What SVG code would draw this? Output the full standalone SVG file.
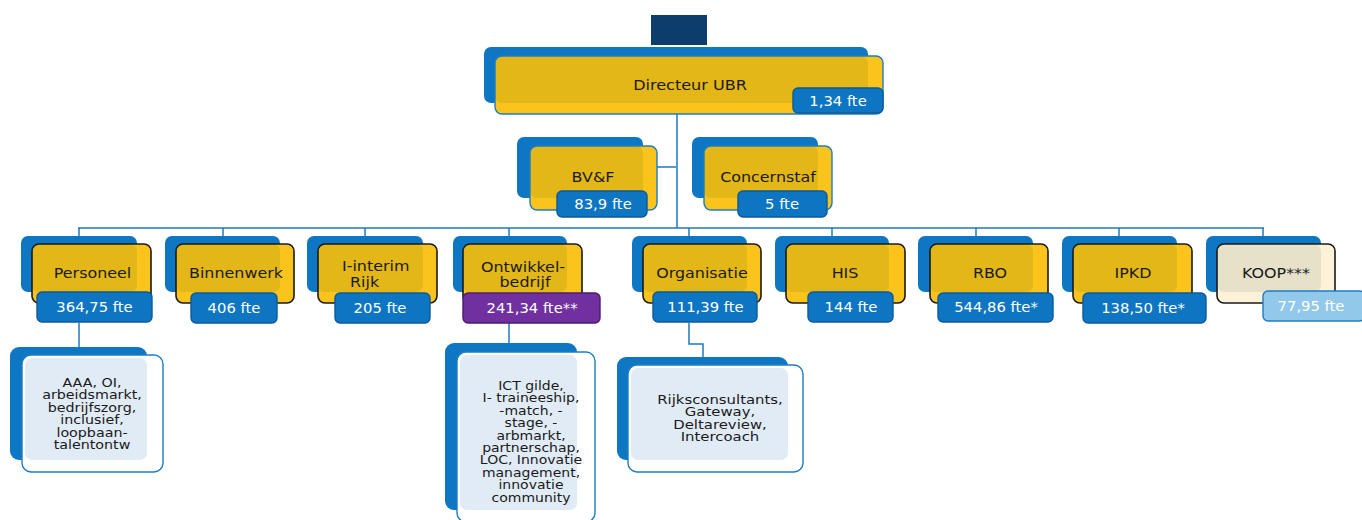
<svg xmlns="http://www.w3.org/2000/svg" width="1362" height="520" viewBox="0 0 1362 520">
<style>
.bk{fill:#0e77c3}
.fy{fill:#fbc41c}
.oy{fill:#e2b717}
.sy{fill:none;stroke:#1a1a1a;stroke-width:1.6}
.sb{fill:none;stroke:#1c7dc5;stroke-width:1.4}
.bd{fill:#0d75c1;stroke:#0b5a9a;stroke-width:1.4}
.pu{fill:#7030a0;stroke:#4a1d72;stroke-width:1.4}
.lb{fill:#92c9ea;stroke:#1c7dc5;stroke-width:1.4}
.fw{fill:#ffffff}
.ow{fill:#e0ebf6}
.fc{fill:#fdf1d8}
.oc{fill:#e7e1ca}
.t{font-family:"DejaVu Sans","Verdana",sans-serif;font-size:14.6px;fill:#1a1a1a;text-anchor:middle}
.tb{font-family:"DejaVu Sans","Verdana",sans-serif;font-size:13.7px;fill:#ffffff;text-anchor:middle}
.ts{font-family:"DejaVu Sans","Verdana",sans-serif;font-size:12.4px;fill:#1a1a1a;text-anchor:middle}
.ln{fill:none;stroke:#1f78bf;stroke-width:1.5}
</style>
<rect x="651" y="15" width="56" height="30" fill="#0c3d6c"/>
<g id="connectors">
<path class="ln" d="M677 114V228M78 228H1264"/>
<path class="ln" d="M638 167H676"/>
<path class="ln" d="M79 228V236M223 228V236M365 228V236M509 228V236M689 228V236M832 228V236M976 228V236M1119 228V236M1263 228V236"/>
<path class="ln" d="M79 323V347"/>
<path class="ln" d="M509 323V343"/>
<path class="ln" d="M689 323V344H703V357"/>
</g>
<g id="directeur">
<rect class="bk" x="484" y="47" width="384" height="56" rx="7"/>
<rect class="fy" x="495" y="56" width="388" height="58" rx="7"/>
<rect class="oy" x="495" y="56" width="373" height="47" rx="7"/>
<rect class="sb" x="495" y="56" width="388" height="58" rx="7"/>
<text class="t" transform="translate(690 90) scale(1.1 1)">Directeur UBR</text>
<rect class="bd" x="793" y="88" width="90" height="25" rx="5"/>
<text class="tb" transform="translate(838 106) scale(1.08 1)">1,34 fte</text>
</g>
<g id="bvf">
<rect class="bk" x="517" y="137" width="126" height="61" rx="7"/>
<rect class="fy" x="530" y="146" width="127" height="64" rx="7"/>
<rect class="oy" x="530" y="146" width="113" height="52" rx="7"/>
<rect class="sb" x="530" y="146" width="127" height="64" rx="7"/>
<text class="t" transform="translate(593 182) scale(1.09 1)">BV&amp;F</text>
<rect class="bd" x="557" y="191" width="90" height="26" rx="5"/>
<text class="tb" transform="translate(603 209) scale(1.08 1)">83,9 fte</text>
</g>
<g id="concernstaf">
<rect class="bk" x="692" y="137" width="126" height="61" rx="7"/>
<rect class="fy" x="704" y="146" width="128" height="64" rx="7"/>
<rect class="oy" x="704" y="146" width="114" height="52" rx="7"/>
<rect class="sb" x="704" y="146" width="128" height="64" rx="7"/>
<text class="t" transform="translate(768 182) scale(1.09 1)">Concernstaf</text>
<rect class="bd" x="738" y="191" width="89" height="26" rx="5"/>
<text class="tb" transform="translate(782 209) scale(1.08 1)">5 fte</text>
</g>
<g id="personeel">
<rect class="bk" x="21" y="236" width="116" height="56" rx="7"/>
<rect class="fy" x="32" y="244" width="119" height="59" rx="7"/>
<rect class="oy" x="32" y="244" width="105" height="48" rx="7"/>
<rect class="sy" x="32" y="244" width="119" height="59" rx="7"/>
<text class="t" transform="translate(92.5 278) scale(1.09 1)">Personeel</text>
<rect class="bd" x="37" y="292" width="115" height="30" rx="5"/>
<text class="tb" transform="translate(94.5 312) scale(1.08 1)">364,75 fte</text>
</g>
<g id="binnenwerk">
<rect class="bk" x="165" y="236" width="115" height="56" rx="7"/>
<rect class="fy" x="176" y="244" width="118" height="59" rx="7"/>
<rect class="oy" x="176" y="244" width="104" height="48" rx="7"/>
<rect class="sy" x="176" y="244" width="118" height="59" rx="7"/>
<text class="t" transform="translate(236 278) scale(1.09 1)">Binnenwerk</text>
<rect class="bd" x="191" y="293" width="86" height="30" rx="5"/>
<text class="tb" transform="translate(234 313) scale(1.08 1)">406 fte</text>
</g>
<g id="i-interim">
<rect class="bk" x="307" y="236" width="116" height="56" rx="7"/>
<rect class="fy" x="318" y="244" width="119" height="59" rx="7"/>
<rect class="oy" x="318" y="244" width="105" height="48" rx="7"/>
<rect class="sy" x="318" y="244" width="119" height="59" rx="7"/>
<text class="t" style="text-anchor:start" transform="translate(342 271) scale(1.09 1)">I-interim</text>
<text class="t" style="text-anchor:start" transform="translate(350 287) scale(1.09 1)">Rijk</text>
<rect class="bd" x="335" y="293" width="95" height="30" rx="5"/>
<text class="tb" transform="translate(380 313) scale(1.08 1)">205 fte</text>
</g>
<g id="ontwikkelbedrijf">
<rect class="bk" x="453" y="236" width="114" height="56" rx="7"/>
<rect class="fy" x="463" y="244" width="119" height="59" rx="7"/>
<rect class="oy" x="463" y="244" width="104" height="48" rx="7"/>
<rect class="sy" x="463" y="244" width="119" height="59" rx="7"/>
<text class="t" transform="translate(523 272) scale(1.09 1)">Ontwikkel-</text>
<text class="t" transform="translate(525 287) scale(1.09 1)">bedrijf</text>
<rect class="pu" x="463" y="293" width="137" height="30" rx="5"/>
<text class="tb" transform="translate(532 313) scale(1.08 1)">241,34 fte**</text>
</g>
<g id="organisatie">
<rect class="bk" x="632" y="236" width="115" height="56" rx="7"/>
<rect class="fy" x="643" y="244" width="118" height="59" rx="7"/>
<rect class="oy" x="643" y="244" width="104" height="48" rx="7"/>
<rect class="sy" x="643" y="244" width="118" height="59" rx="7"/>
<text class="t" transform="translate(702 278) scale(1.09 1)">Organisatie</text>
<rect class="bd" x="653" y="292" width="104" height="30" rx="5"/>
<text class="tb" transform="translate(705.5 312) scale(1.08 1)">111,39 fte</text>
</g>
<g id="his">
<rect class="bk" x="775" y="236" width="114" height="56" rx="7"/>
<rect class="fy" x="786" y="244" width="119" height="59" rx="7"/>
<rect class="oy" x="786" y="244" width="103" height="48" rx="7"/>
<rect class="sy" x="786" y="244" width="119" height="59" rx="7"/>
<text class="t" transform="translate(845 278) scale(1.09 1)">HIS</text>
<rect class="bd" x="808" y="292" width="85" height="30" rx="5"/>
<text class="tb" transform="translate(851 312) scale(1.08 1)">144 fte</text>
</g>
<g id="rbo">
<rect class="bk" x="918" y="236" width="115" height="56" rx="7"/>
<rect class="fy" x="930" y="244" width="118" height="59" rx="7"/>
<rect class="oy" x="930" y="244" width="103" height="48" rx="7"/>
<rect class="sy" x="930" y="244" width="118" height="59" rx="7"/>
<text class="t" transform="translate(990 278) scale(1.09 1)">RBO</text>
<rect class="bd" x="938" y="293" width="115" height="29" rx="5"/>
<text class="tb" transform="translate(996 312) scale(1.08 1)">544,86 fte*</text>
</g>
<g id="ipkd">
<rect class="bk" x="1062" y="236" width="115" height="56" rx="7"/>
<rect class="fy" x="1073" y="244" width="119" height="59" rx="7"/>
<rect class="oy" x="1073" y="244" width="104" height="48" rx="7"/>
<rect class="sy" x="1073" y="244" width="119" height="59" rx="7"/>
<text class="t" transform="translate(1133 278) scale(1.09 1)">IPKD</text>
<rect class="bd" x="1083" y="293" width="123" height="30" rx="5"/>
<text class="tb" transform="translate(1143 313) scale(1.08 1)">138,50 fte*</text>
</g>
<g id="koop">
<rect class="bk" x="1206" y="236" width="115" height="56" rx="7"/>
<rect class="fc" x="1217" y="244" width="118" height="59" rx="7"/>
<rect class="oc" x="1217" y="244" width="104" height="48" rx="7"/>
<rect class="sy" x="1217" y="244" width="118" height="59" rx="7"/>
<text class="t" transform="translate(1276 278) scale(1.09 1)">KOOP***</text>
<rect class="lb" x="1263" y="291" width="102" height="30" rx="5"/>
<text class="tb" transform="translate(1311 311) scale(1.08 1)">77,95 fte</text>
</g>
<g id="personeel-taken">
<rect class="bk" x="10" y="347" width="137" height="113" rx="9"/>
<rect class="fw" x="22" y="355" width="141" height="117" rx="9"/>
<rect class="ow" x="25" y="358" width="122" height="102" rx="7"/>
<rect class="sb" x="22" y="355" width="141" height="117" rx="9"/>
<text class="ts" transform="translate(92 387) scale(1.15 1)"><tspan x="0" y="0">AAA, OI,</tspan><tspan x="0" y="12.4">arbeidsmarkt,</tspan><tspan x="0" y="24.8">bedrijfszorg,</tspan><tspan x="0" y="37.2">inclusief,</tspan><tspan x="0" y="49.6">loopbaan-</tspan><tspan x="0" y="62">talentontw</tspan></text>
</g>
<g id="ontwikkel-taken">
<rect class="bk" x="445" y="343" width="132" height="167" rx="9"/>
<rect class="fw" x="457" y="352" width="138" height="170" rx="9"/>
<rect class="ow" x="460" y="355" width="117" height="155" rx="7"/>
<rect class="sb" x="457" y="352" width="138" height="170" rx="9"/>
<text class="ts" transform="translate(531 390) scale(1.13 1)"><tspan x="0" y="0">ICT gilde,</tspan><tspan x="0" y="12.4">I- traineeship,</tspan><tspan x="0" y="24.8">-match, -</tspan><tspan x="0" y="37.2">stage, -</tspan><tspan x="0" y="49.6">arbmarkt,</tspan><tspan x="0" y="62">partnerschap,</tspan><tspan x="0" y="74.4">LOC, Innovatie</tspan><tspan x="0" y="86.8">management,</tspan><tspan x="0" y="99.2">innovatie</tspan><tspan x="0" y="111.6">community</tspan></text>
</g>
<g id="organisatie-taken">
<rect class="bk" x="617" y="357" width="171" height="103" rx="9"/>
<rect class="fw" x="628" y="365" width="175" height="107" rx="9"/>
<rect class="ow" x="631" y="368" width="157" height="92" rx="7"/>
<rect class="sb" x="628" y="365" width="175" height="107" rx="9"/>
<text class="ts" transform="translate(720 404) scale(1.2 1)"><tspan x="0" y="0">Rijksconsultants,</tspan><tspan x="0" y="12.4">Gateway,</tspan><tspan x="0" y="24.8">Deltareview,</tspan><tspan x="0" y="37.2">Intercoach</tspan></text>
</g>
</svg>
